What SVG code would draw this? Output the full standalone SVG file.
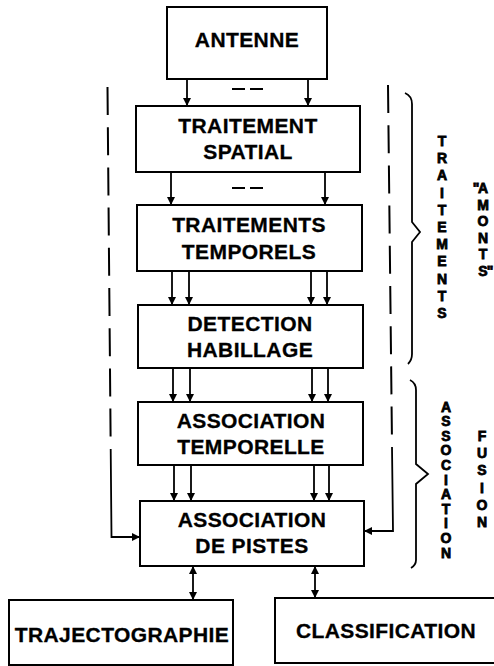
<svg xmlns="http://www.w3.org/2000/svg" width="494" height="666" viewBox="0 0 494 666">
<style>
.box{fill:#fff;stroke:#000;stroke-width:2}
.lbl{font-family:"Liberation Sans",Arial,Helvetica,sans-serif;font-weight:bold;font-size:21px;letter-spacing:0.4px;fill:#000;stroke:#000;stroke-width:0.3;text-anchor:middle}
.vt{font-family:"Liberation Sans",Arial,Helvetica,sans-serif;font-weight:bold;font-size:14px;fill:#000;stroke:#000;stroke-width:0.8;text-anchor:middle}
.ln{fill:none;stroke:#000;stroke-width:1.8}
.dash{fill:none;stroke:#000;stroke-width:2;stroke-dasharray:28 12.2}
.brace{fill:none;stroke:#000;stroke-width:1.8;stroke-linejoin:miter}
</style>
<defs>
<marker id="ah" markerUnits="userSpaceOnUse" markerWidth="8" markerHeight="8" refX="8" refY="4" orient="auto-start-reverse">
<path d="M0,0 L8,4 L0,8 z" fill="#000"/>
</marker>
</defs>
<rect width="494" height="666" fill="#fff"/>

<g id="connectors">
<line class="ln" x1="187" y1="79" x2="187" y2="106" marker-end="url(#ah)"/>
<line class="ln" x1="308" y1="79" x2="308" y2="106" marker-end="url(#ah)"/>
<path class="ln" d="M232,89 H245 M250,89 H263" stroke-width="2"/>
<line class="ln" x1="171" y1="172" x2="171" y2="205" marker-end="url(#ah)"/>
<line class="ln" x1="325" y1="172" x2="325" y2="205" marker-end="url(#ah)"/>
<path class="ln" d="M232,188 H245 M250,188 H263" stroke-width="2"/>
<line class="ln" x1="172" y1="271" x2="172" y2="305" marker-end="url(#ah)"/>
<line class="ln" x1="189" y1="271" x2="189" y2="305" marker-end="url(#ah)"/>
<line class="ln" x1="311" y1="271" x2="311" y2="305" marker-end="url(#ah)"/>
<line class="ln" x1="327" y1="271" x2="327" y2="305" marker-end="url(#ah)"/>
<line class="ln" x1="173" y1="368" x2="173" y2="402" marker-end="url(#ah)"/>
<line class="ln" x1="190" y1="368" x2="190" y2="402" marker-end="url(#ah)"/>
<line class="ln" x1="312" y1="368" x2="312" y2="402" marker-end="url(#ah)"/>
<line class="ln" x1="328" y1="368" x2="328" y2="402" marker-end="url(#ah)"/>
<line class="ln" x1="174" y1="465" x2="174" y2="501" marker-end="url(#ah)"/>
<line class="ln" x1="191" y1="465" x2="191" y2="501" marker-end="url(#ah)"/>
<line class="ln" x1="314" y1="465" x2="314" y2="501" marker-end="url(#ah)"/>
<line class="ln" x1="329" y1="465" x2="329" y2="501" marker-end="url(#ah)"/>
<line class="ln" x1="193" y1="566" x2="193" y2="600" marker-start="url(#ah)" marker-end="url(#ah)"/>
<line class="ln" x1="315" y1="566" x2="315" y2="598" marker-start="url(#ah)" marker-end="url(#ah)"/>
<line class="dash" x1="107.5" y1="87" x2="110.6" y2="437"/>
<path class="ln" stroke-width="2" d="M110.7,449 L111.5,537 H140" marker-end="url(#ah)"/>
<line class="dash" x1="388" y1="85" x2="391.9" y2="435"/>
<path class="ln" stroke-width="2" d="M392,447 L393,531 H364" marker-end="url(#ah)"/>
</g>

<g id="brace-amont">
<path class="brace" d="M405,93 Q412,96 412,104 V222 L420,232 L412,242 V354 Q412,360 408,364"/>
</g>
<g id="brace-fusion">
<path class="brace" d="M410,380 Q416,383 416,390 V464 L428,474 L416,484 V560 Q416,565 411,568"/>
</g>

<g id="antenne">
<rect class="box" x="167" y="7" width="160" height="72"/>
<text class="lbl" x="247" y="47">ANTENNE</text>
</g>
<g id="traitement-spatial">
<rect class="box" x="136" y="106" width="224" height="66"/>
<text class="lbl" x="248" y="133">TRAITEMENT</text>
<text class="lbl" x="248" y="159">SPATIAL</text>
</g>
<g id="traitements-temporels">
<rect class="box" x="137" y="205" width="225" height="66"/>
<text class="lbl" x="249" y="232">TRAITEMENTS</text>
<text class="lbl" x="249" y="259">TEMPORELS</text>
</g>
<g id="detection-habillage">
<rect class="box" x="138" y="305" width="225" height="63"/>
<text class="lbl" x="250" y="331">DETECTION</text>
<text class="lbl" x="250" y="357">HABILLAGE</text>
</g>
<g id="association-temporelle">
<rect class="box" x="138" y="402" width="225" height="63"/>
<text class="lbl" x="251" y="428">ASSOCIATION</text>
<text class="lbl" x="251" y="454">TEMPORELLE</text>
</g>
<g id="association-pistes">
<rect class="box" x="140" y="501" width="224" height="65"/>
<text class="lbl" x="252" y="527">ASSOCIATION</text>
<text class="lbl" x="252" y="553">DE PISTES</text>
</g>
<g id="trajectographie">
<rect class="box" x="9" y="600" width="224" height="65"/>
<text class="lbl" x="122" y="642">TRAJECTOGRAPHIE</text>
</g>
<g id="classification">
<rect class="box" x="275" y="598" width="230" height="65"/>
<text class="lbl" x="386" y="638">CLASSIFICATION</text>
</g>

<g id="label-traitements">
<text class="vt"><tspan x="442" y="146">T</tspan><tspan x="442" y="163.2">R</tspan><tspan x="442" y="180.4">A</tspan><tspan x="442" y="197.6">I</tspan><tspan x="442" y="214.8">T</tspan><tspan x="442" y="232">E</tspan><tspan x="442" y="249.2">M</tspan><tspan x="442" y="266.4">E</tspan><tspan x="442" y="283.6">N</tspan><tspan x="442" y="300.8">T</tspan><tspan x="442" y="318">S</tspan></text>
</g>
<g id="label-amonts">
<text class="vt"><tspan x="476" y="193">"</tspan><tspan x="483" y="193">A</tspan><tspan x="483" y="209.6">M</tspan><tspan x="483" y="226.2">O</tspan><tspan x="483" y="242.8">N</tspan><tspan x="483" y="259.4">T</tspan><tspan x="483" y="276">S</tspan><tspan x="490" y="276">"</tspan></text>
</g>
<g id="label-association">
<text class="vt"><tspan x="446" y="411.5">A</tspan><tspan x="446" y="426.1">S</tspan><tspan x="446" y="440.7">S</tspan><tspan x="446" y="455.3">O</tspan><tspan x="446" y="469.9">C</tspan><tspan x="446" y="484.5">I</tspan><tspan x="446" y="499.1">A</tspan><tspan x="446" y="513.7">T</tspan><tspan x="446" y="528.3">I</tspan><tspan x="446" y="542.9">O</tspan><tspan x="446" y="557.5">N</tspan></text>
</g>
<g id="label-fusion">
<text class="vt"><tspan x="482" y="441">F</tspan><tspan x="482" y="458.2">U</tspan><tspan x="482" y="475.4">S</tspan><tspan x="482" y="492.6">I</tspan><tspan x="482" y="509.8">O</tspan><tspan x="482" y="527">N</tspan></text>
</g>
</svg>
